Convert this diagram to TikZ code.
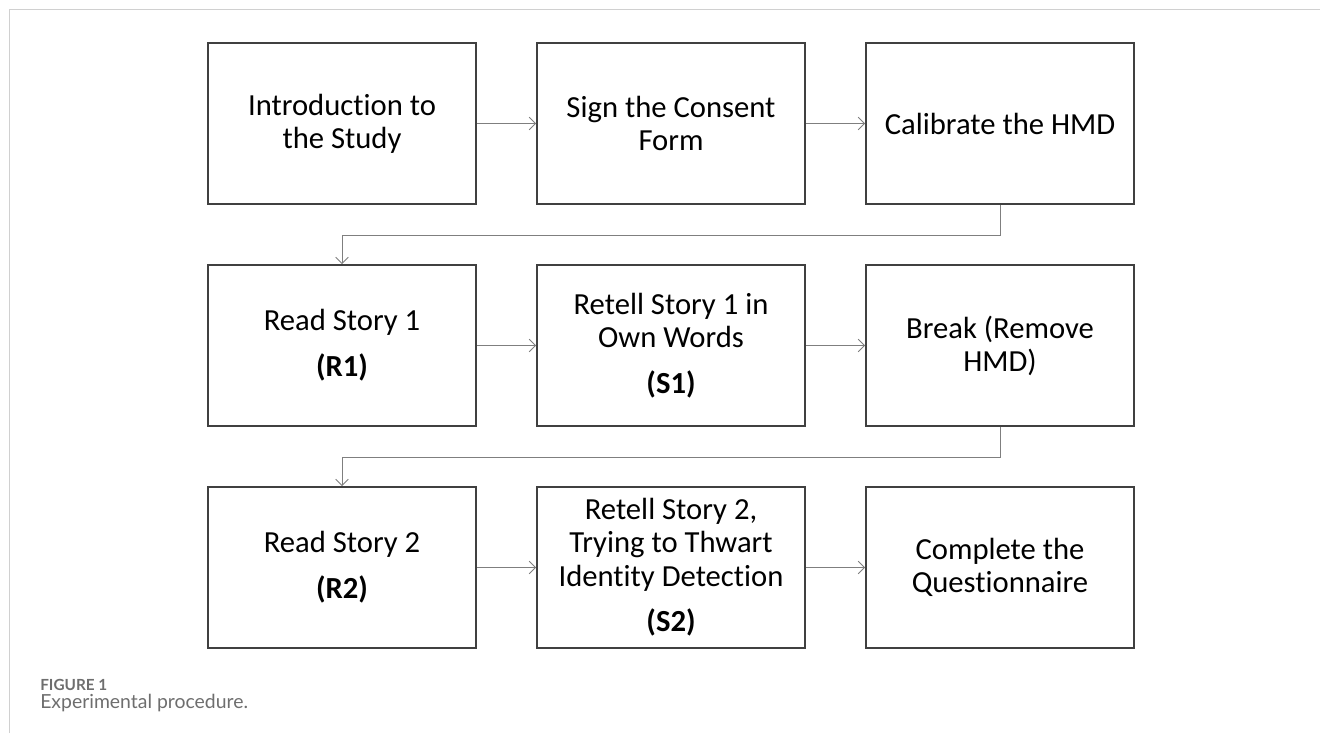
\documentclass[tikz,border=0pt]{standalone}
\usepackage{fontspec}
\setmainfont{Carlito}[Ligatures=NoCommon]
\newfontfamily\capfont{Lato}
\usetikzlibrary{arrows.meta}
\definecolor{boxline}{HTML}{404040}
\definecolor{arrline}{HTML}{7F7F7F}
\definecolor{frameline}{HTML}{D0D0D0}
\definecolor{captext}{HTML}{6E6E6E}
\tikzset{
  stage/.style={draw=boxline,line width=1.1pt,minimum width=6.7cm,
    minimum height=4.025cm,inner sep=0pt,align=center,
    font=\fontsize{21.8}{23.5}\selectfont},
  flow/.style={draw=arrline,line width=0.7pt,
    -{Straight Barb[length=4.5pt,width=9pt]}},
  caption/.style={anchor=base west,inner sep=0pt,text=captext}
}
\begin{document}
\begin{tikzpicture}
\useasboundingbox (0,0) rectangle (33,18.325);
\draw[frameline,line width=0.7pt] (0.2375,0) -- (0.2375,18.0875) -- (33,18.0875);
% first row
\node[stage] (intro) at (8.55,15.2375) {Introduction to\\the Study};
\node[stage] (consent) at (16.775,15.2375) {Sign the Consent\\Form};
\node[stage] (calib) at (25,15.2375) {Calibrate the HMD};
% second row
\node[stage] (read1) at (8.55,9.6875) {Read Story 1\\[9pt]\textbf{(R1)}};
\node[stage] (retell1) at (16.775,9.6875) {Retell Story 1 in\\Own Words\\[9pt]\textbf{(S1)}};
\node[stage] (brk) at (25,9.6875) {Break (Remove\\HMD)};
% third row
\node[stage] (read2) at (8.55,4.1375) {Read Story 2\\[9pt]\textbf{(R2)}};
\node[stage] (retell2) at (16.775,4.1375) {Retell Story 2,\\Trying to Thwart\\Identity Detection\\[9pt]\textbf{(S2)}};
\node[stage] (quest) at (25,4.1375) {Complete the\\Questionnaire};
\draw[flow] (intro) -- (consent);
\draw[flow] (consent) -- (calib);
\draw[flow] (calib.south) -- ++(0,-0.775) -| (read1.north);
\draw[flow] (read1) -- (retell1);
\draw[flow] (retell1) -- (brk);
\draw[flow] (brk.south) -- ++(0,-0.775) -| (read2.north);
\draw[flow] (read2) -- (retell2);
\draw[flow] (retell2) -- (quest);
% caption
\node[caption,font=\capfont\bfseries\fontsize{10.9}{13}\selectfont] (figno) at (1.0,1.075) {FIGURE 1};
\node[caption,font=\capfont\fontsize{13.8}{16}\selectfont] (figtext) at (1.0,0.625) {Experimental procedure.};
\end{tikzpicture}
\end{document}
